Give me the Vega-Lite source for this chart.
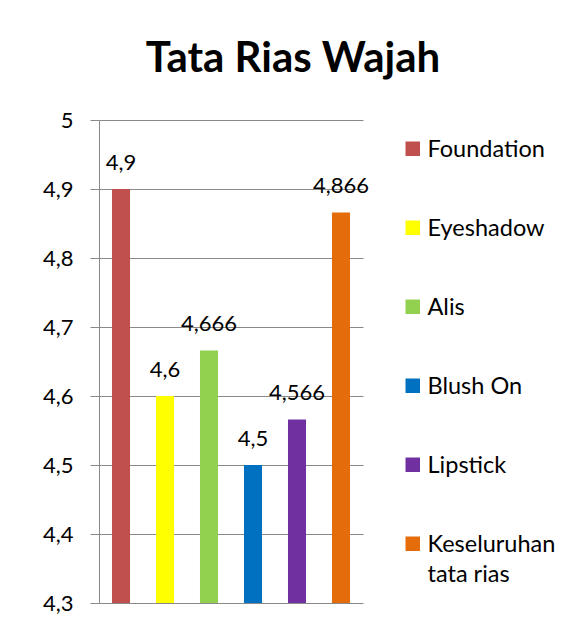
{
  "$schema": "https://vega.github.io/schema/vega-lite/v6.json",
  "autosize": "none",
  "width": 264,
  "height": 483,
  "padding": {"left": 99, "top": 120, "right": 217, "bottom": 25},
  "background": "white",
  "title": {"text": "Tata Rias Wajah", "font": "Lato", "fontSize": 42, "fontWeight": "bold", "color": "black", "anchor": "middle", "dx": 62, "offset": -5, "baseline": "alphabetic"},
  "data": {"values": [
    {"kategori": "Foundation", "nilai": 4.9, "label": "4,9"},
    {"kategori": "Eyeshadow", "nilai": 4.6, "label": "4,6"},
    {"kategori": "Alis", "nilai": 4.666, "label": "4,666"},
    {"kategori": "Blush On", "nilai": 4.5, "label": "4,5"},
    {"kategori": "Lipstick", "nilai": 4.566, "label": "4,566"},
    {"kategori": "Keseluruhan tata rias", "nilai": 4.866, "label": "4,866"}
  ]},
  "encoding": {
    "x": {"field": "kategori", "type": "nominal", "sort": ["Foundation", "Eyeshadow", "Alis", "Blush On", "Lipstick", "Keseluruhan tata rias"], "axis": null, "scale": {"paddingInner": 0.59, "paddingOuter": 0.295}},
    "y": {"field": "nilai", "type": "quantitative", "scale": {"domain": [4.3, 5], "nice": false, "zero": false},
      "axis": {"values": [4.3, 4.4, 4.5, 4.6, 4.7, 4.8, 4.9, 5], "title": null, "labelExpr": "replace(format(datum.value, '.2~f'), '.', ',')", "labelFont": "Lato", "labelFontSize": 22, "labelColor": "black", "labelPadding": 17, "tickSize": 9, "tickColor": "#898989", "domainColor": "#898989", "gridColor": "#898989", "grid": true, "tickWidth": 1, "domainWidth": 1, "gridWidth": 1, "gridOpacity": 1}}
  },
  "layer": [
    {"mark": {"type": "bar", "clip": true},
     "encoding": {"color": {"field": "kategori", "type": "nominal",
       "scale": {"domain": ["Foundation", "Eyeshadow", "Alis", "Blush On", "Lipstick", "Keseluruhan tata rias"], "range": ["#C0504D", "#FFFF00", "#92D050", "#0070C0", "#7030A0", "#E46C0A"]},
       "legend": {"orient": "none", "legendX": 302, "legendY": 17, "title": null, "symbolType": "square", "symbolSize": 210, "symbolStrokeWidth": 0, "symbolOpacity": 1, "labelFont": "Lato", "labelFontSize": 23.5, "labelColor": "black", "labelOffset": 3, "rowPadding": 54, "labelLimit": 200, "labelBaseline": "alphabetic",
         "labelExpr": "datum.label == 'Keseluruhan tata rias' ? ['Keseluruhan', 'tata rias'] : datum.label",
         "encode": {"labels": {"update": {"dy": {"value": 8}, "lineHeight": {"value": 30}}}}}}}},
    {"mark": {"type": "text", "font": "Lato", "fontSize": 22, "baseline": "alphabetic", "dy": -19, "color": "black"},
     "encoding": {"text": {"field": "label"}}}
  ],
  "config": {"view": {"stroke": null}}
}
